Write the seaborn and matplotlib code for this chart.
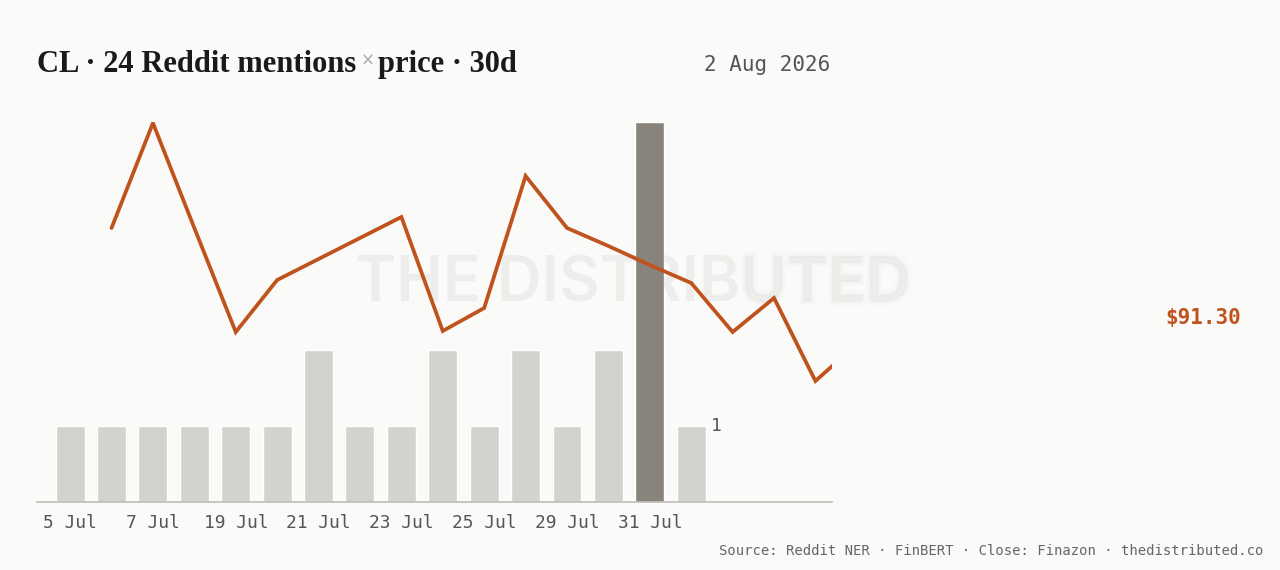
import pandas as pd
import numpy as np
import matplotlib.pyplot as plt
import matplotlib.patheffects as pe
import seaborn as sns

# mentions per day (bars) and daily close (line)
days = ['5 Jul', '6 Jul', '7 Jul', '18 Jul', '19 Jul', '20 Jul', '21 Jul', '22 Jul',
        '23 Jul', '24 Jul', '25 Jul', '28 Jul', '29 Jul', '30 Jul', '31 Jul', '1 Aug']
mentions = [1, 1, 1, 1, 1, 1, 2, 1, 1, 2, 1, 2, 1, 2, 5, 1]
highlight_day = '31 Jul'
tick_days = ['5 Jul', '7 Jul', '19 Jul', '21 Jul', '23 Jul', '25 Jul', '29 Jul', '31 Jul']

price_idx = list(range(1, 20))
close = [93.10, 95.20, 93.10, 91.02, 92.06, 92.48, 92.90, 93.32, 91.04, 91.50,
         94.14, 93.10, 92.74, 92.36, 92.00, 91.02, 91.70, 90.04, 90.78]
last_close = 91.30

title_left = 'CL · 24 Reddit mentions'
title_right = 'price · 30d'
date_label = '2 Aug 2026'
source = 'Source: Reddit NER · FinBERT · Close: Finazon · thedistributed.co'
mark_sharp = 'THE DISTRIB'
mark_soft = 'UTED'

bg = '#fafaf8'
orange = '#c0521e'
light_bar = '#d3d2ce'
dark_bar = '#88837b'
mono = 'DejaVu Sans Mono'

sns.set_theme(style='white')
plt.rcParams['font.family'] = ['DejaVu Sans']

fig = plt.figure(figsize=(12.8, 5.7), dpi=100, facecolor=bg)
ax = fig.add_axes([37 / 1280, 1 - 502 / 570, 795 / 1280, 380 / 570])
ax.set_facecolor('none')

df = pd.DataFrame({'day': days, 'mentions': mentions})
pal = {d: (dark_bar if d == highlight_day else light_bar) for d in days}
sns.barplot(data=df, x='day', y='mentions', hue='day', palette=pal, legend=False,
            width=0.7, saturation=1, order=days, ax=ax)
ax.set_xlim(-0.8, 18.4)
ax.set_ylim(0, 5)
ax.set_yticks([])
ax.set_xlabel('')
ax.set_ylabel('')
ax.set_xticks([days.index(d) for d in tick_days])
ax.set_xticklabels(tick_days, fontfamily=mono, fontsize=12.9, color='#555555')
ax.tick_params(axis='x', length=0, pad=9)
for s in ['top', 'right', 'left']:
    ax.spines[s].set_visible(False)
ax.spines['bottom'].set_color('#bdbcb8')
ax.spines['bottom'].set_linewidth(1.2)

ax.annotate(str(mentions[-1]), xy=(len(days) - 1 + 0.35, mentions[-1]),
            xytext=(4, 0), textcoords='offset points', ha='left', va='center',
            fontfamily=mono, fontsize=13, color='#555555')

# watermark: sharp left part, soft tail
renderer = fig.canvas.get_renderer()
wm = dict(fontfamily='Inter', fontweight='semibold', fontsize=45, color='#8a8a86',
          va='center', ha='left')
probe = fig.text(0, 0, mark_sharp + mark_soft, **wm)
w_full = probe.get_window_extent(renderer).width
probe.remove()
probe = fig.text(0, 0, mark_sharp, **wm)
w_sharp = probe.get_window_extent(renderer).width
probe.remove()
W, H = fig.bbox.width, fig.bbox.height
x0 = (633 - w_full / 2) / W
y0 = 1 - 285 / 570
fig.text(x0, y0, mark_sharp, alpha=0.11, zorder=1.5, **wm)
fig.text(x0 + w_sharp / W, y0, mark_soft, alpha=0.03, zorder=1.5,
         path_effects=[pe.Stroke(linewidth=6, foreground='#8a8a86', alpha=0.02),
                       pe.Stroke(linewidth=3, foreground='#8a8a86', alpha=0.02),
                       pe.Normal()], **wm)

ax2 = ax.twinx()
ax2.set_zorder(2)
ax2.set_facecolor('none')
sns.lineplot(x=price_idx, y=close, color=orange, linewidth=2.7, ax=ax2,
             solid_capstyle='round', solid_joinstyle='miter')
ax2.set_ylim(87.62, 95.22)
ax2.set_xlim(-0.8, 18.4)
ax2.set_yticks([])
ax2.set_ylabel('')
for s in ax2.spines.values():
    s.set_visible(False)

fig.text(1241 / 1280, 1 - 318 / 570, f'${last_close:.2f}', ha='right', va='center',
         fontfamily=mono, fontsize=15, fontweight='bold', color=orange)

# title built in pieces so the × can be grey
tx = 37 / 1280
ty = 1 - 72 / 570
t1 = fig.text(tx, ty, title_left, ha='left', va='baseline', fontfamily='Liberation Serif',
              fontweight='bold', fontsize=22, color='#1a1a1a')
bb = t1.get_window_extent(renderer)
x2 = (bb.x1 + 4) / W
t2 = fig.text(x2, ty + 0.012, '×', ha='left', va='baseline', fontfamily='DejaVu Sans',
              fontsize=12, color='#aaaaaa')
bb2 = t2.get_window_extent(renderer)
x3 = (bb2.x1 + 4) / W
fig.text(x3, ty, title_right, ha='left', va='baseline', fontfamily='Liberation Serif',
         fontweight='bold', fontsize=22, color='#1a1a1a')

fig.text(830 / 1280, 1 - 71 / 570, date_label, ha='right', va='baseline',
         fontfamily=mono, fontsize=15, color='#555555')
fig.text(1263 / 1280, 1 - 555 / 570, source, ha='right', va='baseline',
         fontfamily=mono, fontsize=10, color='#666666')

fig.savefig('out.png', dpi=100, facecolor=bg)
